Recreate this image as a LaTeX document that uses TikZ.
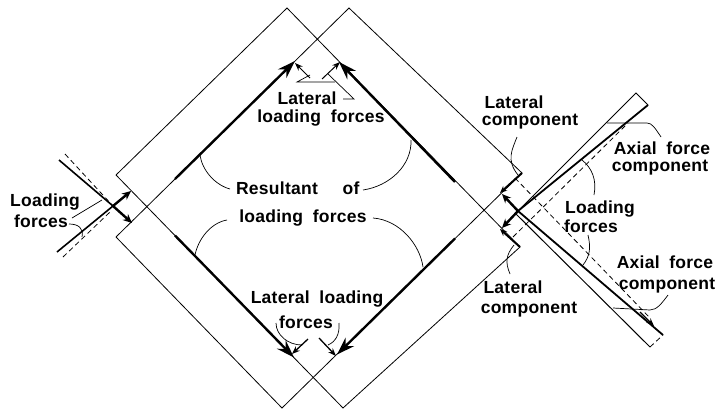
\documentclass[tikz,border=0pt]{standalone}
\usepackage{fontspec}
\setmainfont[LetterSpace=1.5,WordSpace=1.9]{Liberation Sans}
\usetikzlibrary{arrows.meta}
\tikzset{
  thin line/.style={line width=0.8pt,black},
  thick line/.style={line width=2.2pt,black},
  dash line/.style={line width=0.8pt,black,dash pattern=on 5pt off 3.5pt},
  leader/.style={line width=0.7pt,black},
  force/.style={line width=2.4pt,black,-{Stealth[length=9pt,width=8pt]}},
  big force/.style={line width=2.4pt,black,-{Stealth[length=18pt,width=12pt]}},
  small force/.style={line width=1pt,black,-{Stealth[length=8pt,width=6pt]}},
  lab/.style={font=\fontsize{17.5}{20}\selectfont\bfseries,inner sep=0pt,text=black},
}
\begin{document}
\begin{tikzpicture}[x=1pt,y=-1pt]
\useasboundingbox (0,0) rectangle (721,410);
% squares
\coordinate (At) at (287,8); \coordinate (Al) at (116,175); \coordinate (Ab) at (343,408); \coordinate (Ar) at (520,247);
\coordinate (Bt) at (349,8); \coordinate (Bl) at (116,237); \coordinate (Bb) at (282,408); \coordinate (Br) at (522,173);
\draw[thin line] (Al) -- (At) -- (Ar) -- (Ab) -- (Al);
\draw[thin line] (Bl) -- (Bt) -- (Br) -- (Bb) -- (Bl);
% resultant forces
\coordinate (Ts1) at (175,179); \coordinate (Te1) at (295,61);
\coordinate (Ts2) at (455,182); \coordinate (Te2) at (339,62);
\coordinate (Bs1) at (175,235.5); \coordinate (Be1) at (294,357.5);
\coordinate (Bs2) at (455,238.5); \coordinate (Be2) at (337,354.5);
\draw[big force] (Ts1) -- (Te1);
\draw[big force] (Ts2) -- (Te2);
\draw[big force] (Bs1) -- (Be1);
\draw[big force] (Bs2) -- (Be2);
% top lateral arrows
\coordinate (La) at (310,78); \coordinate (Lah) at (295,63);
\coordinate (Lb) at (322,79); \coordinate (Lbh) at (340,62);
\coordinate (Lc) at (297,82); \coordinate (Ld) at (335,82);
\coordinate (Le) at (354,99); \coordinate (Lf) at (328,74); \coordinate (Lg) at (310,75);
\coordinate (Li) at (343,99);
\draw[small force] (La) -- (Lah);
\draw[small force] (Lb) -- (Lbh);
\draw[leader] (Lg) -- (Lc) -- (Ld);
\draw[leader] (Lf) -- (Le) -- (Li);
% bottom lateral arrows
\coordinate (Ma) at (308,339); \coordinate (Mah) at (292,354);
\coordinate (Mb) at (319,338); \coordinate (Mbh) at (336,356);
\draw[small force,line width=1.3pt] (Ma) -- (Mah);
\draw[small force,line width=1.3pt] (Mb) -- (Mbh);
% left side
\coordinate (Lx) at (113,206);
\coordinate (Lu) at (59,160); \coordinate (Ld1) at (57,252);
\coordinate (Lud) at (65,154); \coordinate (Ldd) at (63,257);
\coordinate (Lar) at (131,191); \coordinate (Lbr) at (132,223); \coordinate (Lde) at (110,212);
\draw[thick line,line width=1.6pt] (Lu) -- (Lx) -- (Ld1);
\draw[dash line] (Lud) -- (Lx);
\draw[dash line] (Ldd) -- (Lde);
\draw[force] (Lx) -- (Lar);
\draw[force] (Lx) -- (Lbr);
% right side
\coordinate (Rx) at (518,211);
\coordinate (Rue) at (648,105); \coordinate (Rut) at (636,93);
\coordinate (Rle) at (663,335); \coordinate (Rlt) at (650,347); \coordinate (Rls) at (515,213);
\coordinate (Dna) at (515,178); \coordinate (Dnb) at (650,318);
\coordinate (Dua) at (513,237); \coordinate (Dub) at (628,123);
\coordinate (Ha) at (502,194); \coordinate (Hb) at (502,228);
\coordinate (Ea) at (500,193); \coordinate (Eb) at (500,229);
\coordinate (Ax) at (640,312); \coordinate (Ay) at (654,326);
\draw[thick line,line width=1.8pt] (Rx) -- (Rue);
\draw[thin line,line width=1pt] (Rx) -- (Rut) -- (Rue);
\draw[thick line,line width=1.8pt] (Rx) -- (Rle);
\draw[thin line,line width=1pt] (Rls) -- (Rlt);
\draw[dash line] (Rlt) -- (Rle);
\draw[dash line] (Dna) -- (Dnb);
\draw[dash line] (Dua) -- (Dub);
\draw[force] (Rx) -- (Ha);
\draw[force] (Rx) -- (Hb);
\draw[force,line width=2pt,-{Stealth[length=7pt,width=6pt]}] (Br) -- (Ea);
\draw[force,line width=2pt,-{Stealth[length=7pt,width=6pt]}] (Ar) -- (Eb);
\draw[small force,line width=1.3pt] (Ax) -- (Ay);
% labels
\node[lab] (n1) at (45,202) {Loading};
\node[lab] (n2) at (41,221) {forces};
\node[lab] (n3) at (307,98) {Lateral};
\node[lab] (n4) at (321,118) {loading forces};
\node[lab] (n5) at (277,188) {Resultant};
\node[lab] (n6) at (351,188) {of};
\node[lab] (n7) at (303,218) {loading forces};
\node[lab] (n8) at (317,299) {Lateral loading};
\node[lab] (n9) at (306,322) {forces};
\node[lab] (n10) at (514,102) {Lateral};
\node[lab] (n11) at (530,122) {component};
\node[lab] (n12) at (662,148) {Axial force};
\node[lab] (n13) at (660,168) {component};
\node[lab] (n14) at (600,209) {Loading};
\node[lab] (n15) at (591,226) {forces};
\node[lab] (n16) at (665,262) {Axial force};
\node[lab] (n17) at (667,286) {component};
\node[lab] (n18) at (513,287) {Lateral};
\node[lab] (n19) at (529,310) {component};
% leaders
\coordinate (p1) at (72,218); \coordinate (p2) at (102,200);
\draw[leader] (p1) -- (p2);
\coordinate (p3) at (69,224); \coordinate (p4) at (82,237);
\draw[leader] (p3) .. controls (78,224) and (84,228) .. (p4);
\coordinate (q1) at (200,155); \coordinate (q2) at (230,189);
\draw[leader] (q1) .. controls (202,170) and (215,185) .. (q2);
\coordinate (q3) at (363,190); \coordinate (q4) at (411,140);
\draw[leader] (q3) .. controls (390,186) and (412,165) .. (q4);
\coordinate (q5) at (227,220); \coordinate (q6) at (195,255);
\draw[leader] (q5) .. controls (210,223) and (198,240) .. (q6);
\coordinate (q7) at (373,218); \coordinate (q8) at (423,267);
\draw[leader] (q7) .. controls (400,220) and (420,245) .. (q8);
\coordinate (r1) at (276,323); \coordinate (r2) at (302,345);
\draw[leader] (r1) .. controls (276,335) and (288,345) .. (r2);
\coordinate (r3) at (339,323); \coordinate (r4) at (328,345);
\draw[leader] (r3) .. controls (340,335) and (335,342) .. (r4);
\coordinate (s1) at (517,137); \coordinate (s2) at (518,175);
\draw[leader] (s1) .. controls (512,150) and (506,160) .. (s2);
\coordinate (t1) at (607,123); \coordinate (t2) at (647,123); \coordinate (t3) at (661,137);
\draw[leader] (t1) -- (t2) .. controls (652,123) and (655,128) .. (t3);
\coordinate (u1) at (582,160); \coordinate (u2) at (594,195);
\draw[leader] (u1) .. controls (592,168) and (597,180) .. (u2);
\coordinate (u3) at (588,235); \coordinate (u4) at (583,265);
\draw[leader] (u3) .. controls (591,248) and (590,256) .. (u4);
\coordinate (v1) at (668,295); \coordinate (v2) at (650,310); \coordinate (v3) at (613,308);
\draw[leader] (v1) .. controls (662,303) and (657,310) .. (v2) -- (v3);
\coordinate (w1) at (514,245); \coordinate (w2) at (510,274);
\draw[leader] (w1) .. controls (506,255) and (505,262) .. (w2);
\end{tikzpicture}
\end{document}
